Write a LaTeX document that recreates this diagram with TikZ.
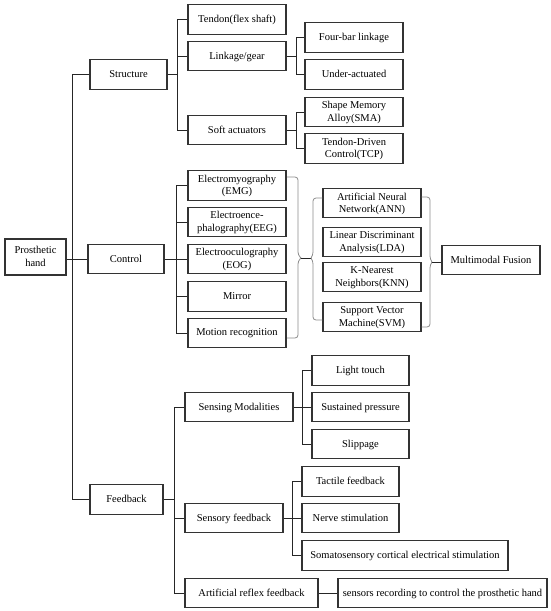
\documentclass[tikz,border=0pt]{standalone}
\usepackage{fontspec}
\setmainfont{Liberation Serif}
\begin{document}
\begin{tikzpicture}[x=1pt,y=-1pt,
  box/.style={draw=black!80,line width=1.2pt,inner sep=0pt,align=center,
    font=\fontsize{10.5}{12.3}\selectfont,minimum height=29.5pt,
    text depth=1pt},
  w98/.style={box,minimum width=98pt},
  ln/.style={draw=black!85,line width=1pt},
  brc/.style={draw=black!45,line width=0.8pt,rounded corners=3pt}]
\useasboundingbox (0,0) rectangle (550,611);
% level 0/1
\node[box,minimum width=61pt,minimum height=36pt] (ph) at (35.5,257) {Prosthetic\\hand};
\node[box,minimum width=77pt] (structure) at (128.5,74.5) {Structure};
\node[box,minimum width=76pt] (control) at (126,259) {Control};
\node[box,minimum width=73pt] (feedback) at (126.5,499.5) {Feedback};
% structure
\node[w98] (tendon) at (237,19.5) {Tendon(flex shaft)};
\node[w98] (linkage) at (237,56) {Linkage/gear};
\node[w98] (soft) at (237,130) {Soft actuators};
\node[w98] (fourbar) at (354,37.5) {Four-bar linkage};
\node[w98] (under) at (354,74.5) {Under-actuated};
\node[w98] (sma) at (354,112) {Shape Memory\\Alloy(SMA)};
\node[w98] (tcp) at (354,148.5) {Tendon-Driven\\Control(TCP)};
% control
\node[w98] (emg) at (237,185.5) {Electromyography\\(EMG)};
\node[w98] (eeg) at (237,222) {Electroence-\\phalography(EEG)};
\node[w98] (eog) at (237,259) {Electrooculography\\(EOG)};
\node[w98] (mirror) at (237,296.5) {Mirror};
\node[w98] (motion) at (237,333) {Motion recognition};
\node[w98] (ann) at (372,203) {Artificial Neural\\Network(ANN)};
\node[w98] (lda) at (372,242) {Linear Discriminant\\Analysis(LDA)};
\node[w98] (knn) at (372,277) {K-Nearest\\Neighbors(KNN)};
\node[w98] (svm) at (372,317) {Support Vector\\Machine(SVM)};
\node[w98] (mmf) at (491,260) {Multimodal Fusion};
% feedback
\node[box,minimum width=108pt] (sensing) at (239,407) {Sensing Modalities};
\node[w98] (sensory) at (234,518) {Sensory feedback};
\node[box,minimum width=133pt] (reflex) at (251.5,593) {Artificial reflex feedback};
\node[box,minimum width=97pt] (light) at (360.5,370.5) {Light touch};
\node[box,minimum width=97pt] (sustained) at (360.5,407) {Sustained pressure};
\node[box,minimum width=97pt] (slippage) at (360.5,444) {Slippage};
\node[box,minimum width=97pt] (tactile) at (350.5,481.5) {Tactile feedback};
\node[box,minimum width=97pt] (nerve) at (350.5,518) {Nerve stimulation};
\node[box,minimum width=206pt] (somato) at (405,555.5) {Somatosensory cortical electrical stimulation};
\node[box,minimum width=209pt] (sensors) at (442.5,593) {sensors recording to control the prosthetic hand};
% bus coordinates
\coordinate (rb) at (72,0);
\coordinate (sb) at (177,0);
\coordinate (lb) at (296,0);
\coordinate (cb) at (176,0);
\coordinate (fb) at (174,0);
\coordinate (mb) at (302,0);
\coordinate (yb) at (292,0);
% root
\draw[ln] (structure.west) -| (rb |- feedback.west) -- (feedback.west);
\draw[ln] (ph.east |- control.west) -- (control.west);
% structure
\draw[ln] (structure.east) -- (structure.east -| sb);
\draw[ln] (tendon.west) -| (sb |- soft.west) -- (soft.west);
\draw[ln] (linkage.west) -- (linkage.west -| sb);
\draw[ln] (linkage.east) -- (linkage.east -| lb);
\draw[ln] (fourbar.west) -| (lb |- under.west) -- (under.west);
\draw[ln] (soft.east) -- (soft.east -| lb);
\draw[ln] (sma.west) -| (lb |- tcp.west) -- (tcp.west);
% control
\draw[ln] (control.east) -- (control.east -| cb);
\draw[ln] (emg.west) -| (cb |- motion.west) -- (motion.west);
\foreach \n in {eeg,eog,mirror} \draw[ln] (\n.west) -- (\n.west -| cb);
% braces
\coordinate (t1) at (301,258);
\coordinate (t2) at (311,258);
\coordinate (t3) at (432,262);
\draw[brc] (287,177) -- (298,177) -- (298,255) -- (t1);
\draw[brc] (287,338) -- (298,338) -- (298,261) -- (t1);
\draw[ln] (t1) -- (t2);
\draw[brc] (ann.west |- 0,198) -- (313,198) -- (313,255) -- (t2);
\draw[brc] (svm.west |- 0,320) -- (313,320) -- (313,261) -- (t2);
\draw[brc] (ann.east |- 0,197) -- (430,197) -- (430,259) -- (t3);
\draw[brc] (svm.east |- 0,327) -- (430,327) -- (430,265) -- (t3);
\draw[ln] (t3) -- (mmf.west |- t3);
% feedback
\draw[ln] (feedback.east) -- (feedback.east -| fb);
\draw[ln] (sensing.west) -| (fb |- reflex.west) -- (reflex.west);
\draw[ln] (sensory.west) -- (sensory.west -| fb);
\draw[ln] (sensing.east) -- (sensing.east -| mb);
\draw[ln] (light.west) -| (mb |- slippage.west) -- (slippage.west);
\draw[ln] (sustained.west) -- (sustained.west -| mb);
\draw[ln] (sensory.east) -- (sensory.east -| yb);
\draw[ln] (tactile.west) -| (yb |- somato.west) -- (somato.west);
\draw[ln] (nerve.west) -- (nerve.west -| yb);
\draw[ln] (reflex.east) -- (sensors.west);
\end{tikzpicture}
\end{document}
